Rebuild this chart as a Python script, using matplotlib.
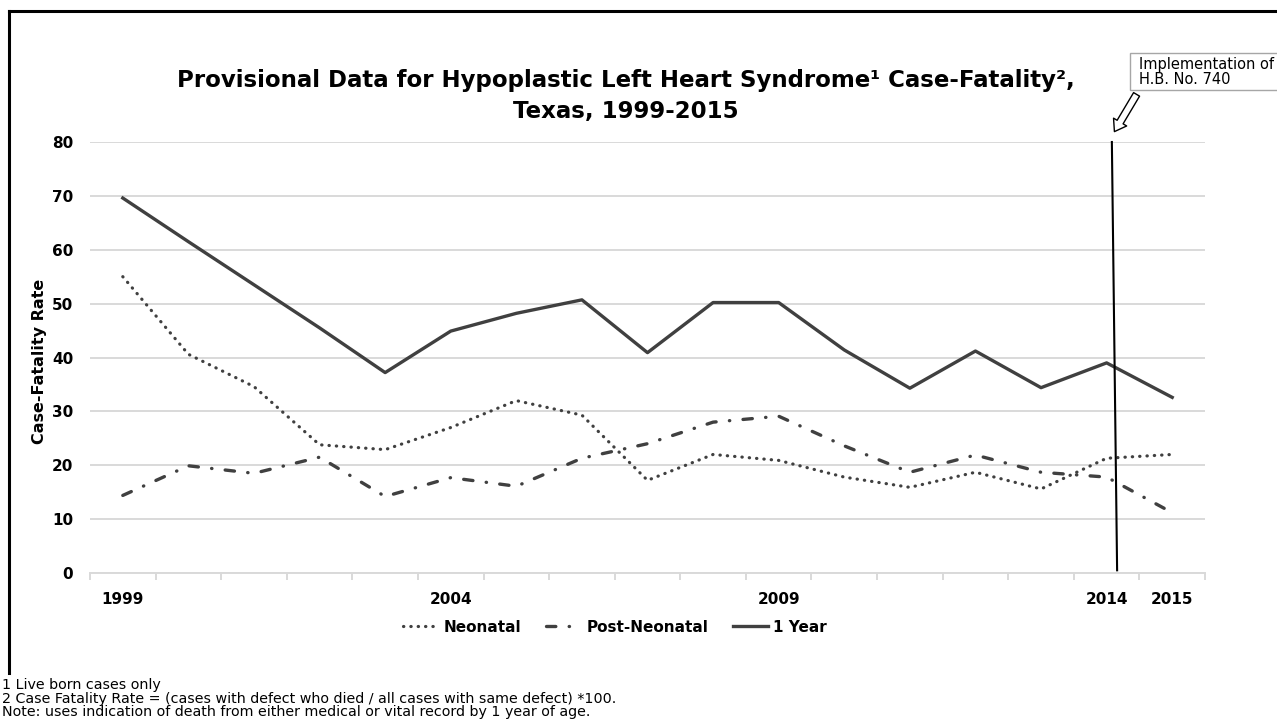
"""
Hypoplastic Left Heart Syndrome case-fatality, Texas 1999-2015.
"""

import matplotlib
matplotlib.use('Agg')
from matplotlib import pyplot as plt
from matplotlib.lines import Line2D
from matplotlib.patches import FancyArrowPatch, Rectangle

# Data
years = list(range(1999, 2016))
neonatal = [55.0, 40.6, 34.6, 23.8, 22.9, 27.0, 32.0, 29.3, 17.2, 22.0,
            20.9, 17.8, 15.9, 18.7, 15.6, 21.3, 22.0]
post_neonatal = [14.4, 19.9, 18.5, 21.5, 14.2, 17.7, 16.1, 21.3, 24.0, 28.0,
                 29.1, 23.6, 18.7, 21.9, 18.7, 17.8, 11.2]
one_year = [69.6, 61.5, 53.5, 45.5, 37.2, 44.9, 48.2, 50.7, 40.9, 50.2,
            50.2, 41.4, 34.3, 41.2, 34.4, 39.0, 32.6]
labelled_years = ['1999', '2004', '2009', '2014', '2015']
y_ticks = [0, 10, 20, 30, 40, 50, 60, 70, 80]

# Marker for the implementation of H.B. No. 740 (category index, value)
hb740_x = [15.08, 15.16]
hb740_y = [80, 0.5]

title = ('Provisional Data for Hypoplastic Left Heart Syndrome\u00b9 Case-Fatality\u00b2,\n'
         'Texas, 1999-2015')
footnotes = ['1 Live born cases only',
             '2 Case Fatality Rate = (cases with defect who died / all cases with same defect) *100.',
             'Note: uses indication of death from either medical or vital record by 1 year of age.']

W, H = 1277, 724
LINE_COLOR = '#404040'
GRID_COLOR = '#d9d9d9'


def fx(px):
    return px / W


def fy(py):
    return 1 - py / H


def main():
    plt.rcParams['font.family'] = ['DejaVu Sans']
    fig = plt.figure(figsize=(W / 100, H / 100), dpi=100)
    ax = fig.add_axes([fx(90), fy(573), fx(1205) - fx(90), fy(142) - fy(573)])

    idx = list(range(len(years)))

    # Series
    ax.plot(idx, neonatal, color=LINE_COLOR, lw=2.3,
            linestyle=(0, (0.1, 2.2)), dash_capstyle='round', label='Neonatal')
    ax.plot(idx, post_neonatal, color=LINE_COLOR, lw=2.4,
            linestyle=(0, (2.8, 4.0, 0.1, 4.0)), dash_capstyle='round', label='Post-Neonatal')
    ax.plot(idx, one_year, color=LINE_COLOR, lw=2.4, label='1 Year')

    # H.B. No. 740 line
    ax.plot(hb740_x, hb740_y, color='black', lw=1.5, clip_on=False)

    # Axes styling
    ax.set_xlim(-0.5, len(years) - 0.5)
    ax.set_ylim(0, 80)
    ax.set_yticks(y_ticks)
    ax.set_yticklabels([str(v) for v in y_ticks], fontsize=11, fontweight='bold')
    ax.tick_params(axis='y', length=0, pad=12)
    ax.grid(axis='y', color=GRID_COLOR, lw=1.4)
    ax.set_axisbelow(True)

    ax.set_xticks([years.index(int(y)) for y in labelled_years])
    ax.set_xticklabels(labelled_years, fontsize=11, fontweight='bold')
    ax.set_xticks([i - 0.5 for i in range(len(years) + 1)], minor=True)
    ax.tick_params(axis='x', which='major', length=0, pad=14)
    ax.tick_params(axis='x', which='minor', length=5, color=GRID_COLOR, width=1.4)

    for side in ['top', 'right', 'left']:
        ax.spines[side].set_visible(False)
    ax.spines['bottom'].set_color(GRID_COLOR)
    ax.spines['bottom'].set_linewidth(1.4)

    ax.set_ylabel('Case-Fatality Rate', fontsize=11.5, fontweight='bold')
    ax.yaxis.set_label_coords((47 - 90) / (1205 - 90), 0.49)

    # Title
    fig.text(fx(626), fy(96), title, ha='center', va='center', fontsize=16.5,
             fontweight='bold', linespacing=1.4)

    # Legend
    fig.legend(loc='center', bbox_to_anchor=(fx(615), fy(627)), ncol=3, frameon=False,
               prop={'size': 11, 'weight': 'bold'}, handlelength=2.3,
               handletextpad=0.35, columnspacing=1.6)

    # Annotation box (runs off the right edge) and hollow arrow
    fig.add_artist(Rectangle((fx(1130), fy(90)), fx(170), fy(53) - fy(90),
                             transform=fig.transFigure, fc='white', ec='#a6a6a6', lw=1))
    fig.text(fx(1139), fy(64), 'Implementation of', ha='left', va='center', fontsize=10.5)
    fig.text(fx(1139), fy(80), 'H.B. No. 740', ha='left', va='center', fontsize=10.5)
    arrow = FancyArrowPatch((fx(1138), fy(92)), (fx(1113), fy(134)),
                            transform=fig.transFigure,
                            arrowstyle='simple,head_length=8,head_width=11,tail_width=5',
                            mutation_scale=1, fc='white', ec='black', lw=1)
    fig.add_artist(arrow)

    # Frame border
    fig.add_artist(Line2D([fx(9), fx(9)], [fy(11), fy(673)], color='black', lw=2.2,
                          transform=fig.transFigure))
    fig.add_artist(Line2D([fx(9), 1], [fy(11), fy(11)], color='black', lw=2.2,
                          transform=fig.transFigure))

    # Footnotes
    for i, note in enumerate(footnotes):
        fig.text(fx(2), fy(685 + 13.5 * i), note, ha='left', va='center', fontsize=10.3)

    fig.savefig('out.png', dpi=100)


# Only if this file is run directly
if __name__ == '__main__':
    main()
